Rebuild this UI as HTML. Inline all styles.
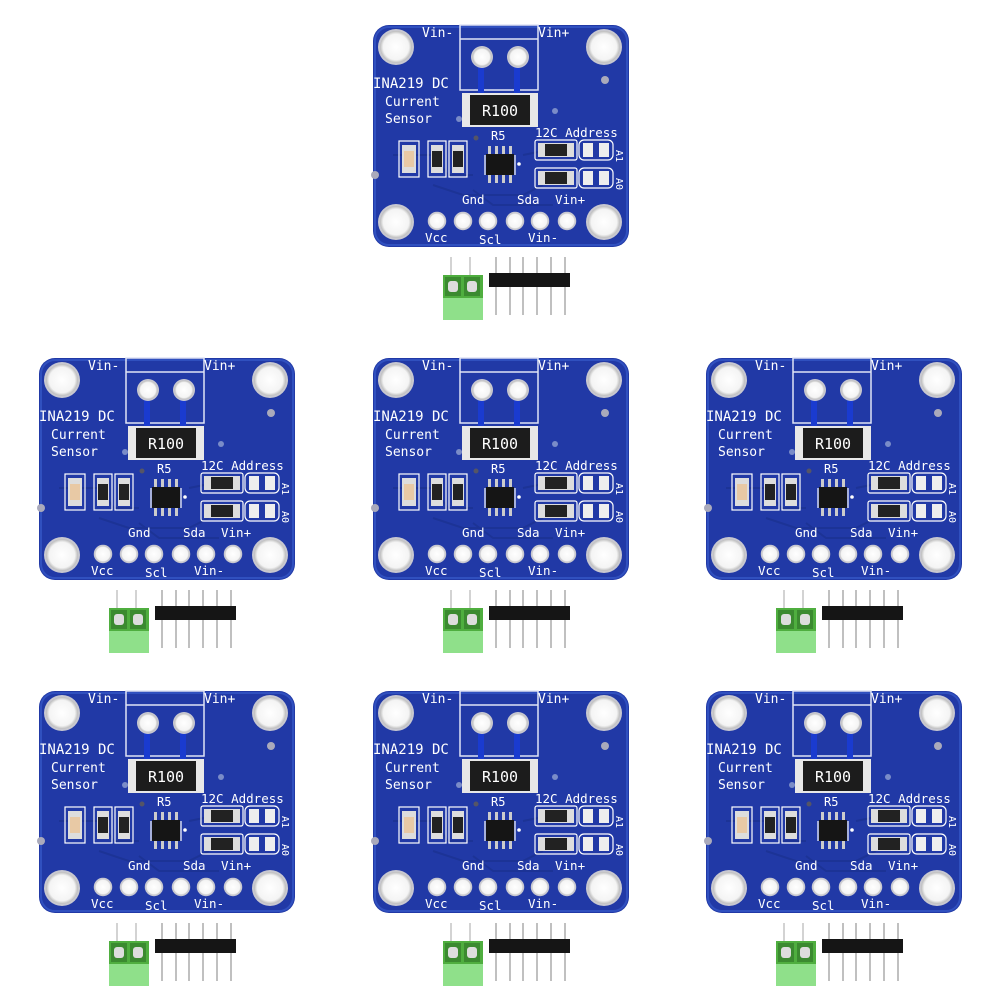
<!DOCTYPE html>
<html><head><meta charset="utf-8"><style>
html,body{margin:0;padding:0;background:#fff;width:1001px;height:1001px;overflow:hidden}
svg{display:block}
text{font-family:"DejaVu Sans Mono","Liberation Mono",monospace;fill:#fff}
</style></head><body>
<svg id="s" width="1001" height="1001" viewBox="0 0 1001 1001" xmlns="http://www.w3.org/2000/svg">
<defs>
<radialGradient id="hg" cx="50%" cy="50%" r="50%"><stop offset="0" stop-color="#fff"/><stop offset="0.8" stop-color="#f4f4f4"/><stop offset="1" stop-color="#bbb"/></radialGradient>
</defs>
<g id="b0" transform="translate(373,25)">
<rect x="0" y="0" width="256" height="222" rx="16" fill="#2139a6"/>
<rect x="2" y="2" width="252" height="218" rx="14" fill="none" stroke="#3050bf" stroke-width="2"/>
<g stroke="#1b3190" stroke-width="2" fill="none" opacity="0.7">
<path d="M20 130 H60 L75 150 H100"/><path d="M60 160 L90 170 H150 L170 160"/><path d="M150 130 L175 125"/><path d="M100 165 L120 180 H180"/>
</g>
<circle cx="23" cy="22" r="18" fill="#c8c8d0"/><circle cx="23" cy="22" r="16" fill="url(#hg)"/>
<circle cx="231" cy="22" r="18" fill="#c8c8d0"/><circle cx="231" cy="22" r="16" fill="url(#hg)"/>
<circle cx="23" cy="197" r="18" fill="#c8c8d0"/><circle cx="23" cy="197" r="16" fill="url(#hg)"/>
<circle cx="231" cy="197" r="18" fill="#c8c8d0"/><circle cx="231" cy="197" r="16" fill="url(#hg)"/>
<rect x="87" y="0" width="78" height="65" fill="none" stroke="#dfe4f5" stroke-width="1.5"/>
<line x1="87" y1="14" x2="165" y2="14" stroke="#dfe4f5" stroke-width="1.5"/>
<rect x="105" y="36" width="6" height="32" fill="#1a3bd0"/><rect x="141" y="36" width="6" height="32" fill="#1a3bd0"/>
<circle cx="109" cy="32" r="11" fill="#c8c8d0"/><circle cx="109" cy="32" r="9.5" fill="url(#hg)"/>
<circle cx="145" cy="32" r="11" fill="#c8c8d0"/><circle cx="145" cy="32" r="9.5" fill="url(#hg)"/>
<text x="49" y="12" font-size="13">Vin-</text>
<text x="165" y="12" font-size="13">Vin+</text>
<text x="0" y="63" font-size="14">INA219 DC</text>
<text x="12" y="81" font-size="13">Current</text>
<text x="12" y="98" font-size="13">Sensor</text>
<circle cx="86" cy="94" r="3" fill="#7a8cc8"/><circle cx="182" cy="86" r="3" fill="#7a8cc8"/>
<circle cx="232" cy="55" r="4" fill="#aab"/><circle cx="103" cy="113" r="2.5" fill="#556"/>
<rect x="89" y="68" width="76" height="34" fill="#e8e8e8"/>
<rect x="97" y="70" width="60" height="30" fill="#1c1c1c"/>
<text x="127" y="91" font-size="15" text-anchor="middle" font-family="Liberation Sans,sans-serif">R100</text>
<text x="118" y="115" font-size="12" font-family="Liberation Sans,sans-serif">R5</text>
<text x="162" y="112" font-size="12.5">12C Address</text>
<g stroke="#fff" stroke-width="1.2" fill="none">
<rect x="26" y="116" width="20" height="36"/><rect x="55" y="116" width="18" height="36"/><rect x="76" y="116" width="18" height="36"/>
<rect x="162" y="115" width="42" height="20" rx="2"/><rect x="206" y="115" width="34" height="20" rx="5"/>
<rect x="162" y="143" width="42" height="20" rx="2"/><rect x="206" y="143" width="34" height="20" rx="5"/>
<path d="M112 130 V150 M142 130 V150"/>
</g>
<rect x="29" y="120" width="14" height="28" fill="#ddd"/><rect x="31" y="126" width="10" height="16" fill="#e8c9a5"/>
<rect x="58" y="120" width="12" height="28" fill="#ddd"/><rect x="59" y="126" width="10" height="16" fill="#222"/>
<rect x="79" y="120" width="12" height="28" fill="#ddd"/><rect x="80" y="126" width="10" height="16" fill="#222"/>
<rect x="165" y="118" width="36" height="14" fill="#ddd"/><rect x="172" y="119" width="22" height="12" fill="#222"/>
<rect x="165" y="146" width="36" height="14" fill="#ddd"/><rect x="172" y="147" width="22" height="12" fill="#222"/>
<rect x="210" y="118" width="10" height="14" fill="#eee"/><rect x="226" y="118" width="10" height="14" fill="#eee"/>
<rect x="210" y="146" width="10" height="14" fill="#eee"/><rect x="226" y="146" width="10" height="14" fill="#eee"/>
<text x="243" y="125" font-size="10" transform="rotate(90 243 125)">A1</text>
<text x="243" y="153" font-size="10" transform="rotate(90 243 153)">A0</text>
<g fill="#ccc"><rect x="115" y="121" width="3" height="8"/><rect x="122" y="121" width="3" height="8"/><rect x="129" y="121" width="3" height="8"/><rect x="136" y="121" width="3" height="8"/>
<rect x="115" y="150" width="3" height="8"/><rect x="122" y="150" width="3" height="8"/><rect x="129" y="150" width="3" height="8"/><rect x="136" y="150" width="3" height="8"/></g>
<rect x="113" y="129" width="28" height="21" fill="#151515"/>
<circle cx="146" cy="139" r="1.8" fill="#fff"/>
<circle cx="2" cy="150" r="4" fill="#aab"/>
<text x="89" y="179" font-size="12.5">Gnd</text>
<text x="144" y="179" font-size="12.5">Sda</text>
<text x="182" y="179" font-size="12.5">Vin+</text>
<text x="52" y="217" font-size="12.5">Vcc</text>
<text x="106" y="219" font-size="12.5">Scl</text>
<text x="155" y="217" font-size="12.5">Vin-</text>
<g fill="url(#hg)" stroke="#c8c8d0" stroke-width="1.5">
<circle cx="64" cy="196" r="8.5"/><circle cx="90" cy="196" r="8.5"/><circle cx="115" cy="196" r="8.5"/><circle cx="142" cy="196" r="8.5"/><circle cx="167" cy="196" r="8.5"/><circle cx="194" cy="196" r="8.5"/>
</g>
<g stroke="#bbb" stroke-width="1.3"><line x1="78" y1="232" x2="78" y2="252"/><line x1="97" y1="232" x2="97" y2="252"/></g>
<rect x="70" y="250" width="40" height="23" fill="#4fae3f"/>
<rect x="72" y="252" width="16" height="19" fill="#3b8a30"/><rect x="91" y="252" width="16" height="19" fill="#3b8a30"/>
<rect x="75" y="256" width="10" height="11" rx="3" fill="#ddd"/><rect x="94" y="256" width="10" height="11" rx="3" fill="#ddd"/>
<rect x="70" y="273" width="40" height="22" fill="#8fe08a"/>
<g stroke="#aaa" stroke-width="1.5">
<line x1="123" y1="232" x2="123" y2="290"/><line x1="137" y1="232" x2="137" y2="290"/><line x1="150" y1="232" x2="150" y2="290"/><line x1="164" y1="232" x2="164" y2="290"/><line x1="178" y1="232" x2="178" y2="290"/><line x1="192" y1="232" x2="192" y2="290"/>
</g>
<rect x="116" y="248" width="81" height="14" fill="#151515"/>
</g>
</svg>
<script>
var s=document.getElementById('s'),g=document.getElementById('b0');
[[39,358],[373,358],[706,358],[39,691],[373,691],[706,691]].forEach(function(p){var c=g.cloneNode(true);c.removeAttribute('id');c.setAttribute('transform','translate('+p[0]+','+p[1]+')');s.appendChild(c);});
</script>
</body></html>
